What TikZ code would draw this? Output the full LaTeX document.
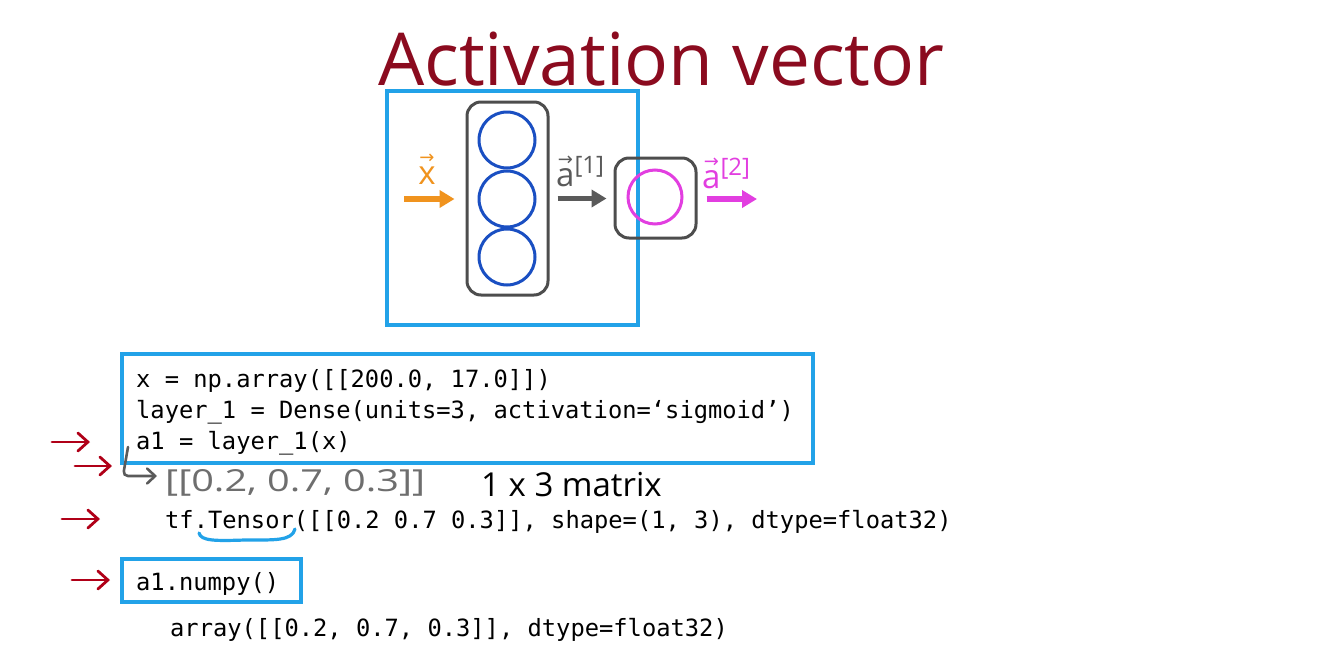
\documentclass[tikz,border=0pt]{standalone}
\usepackage{graphicx}
\usepackage{fontspec}
\setmainfont{Open Sans}
\setmonofont{DejaVu Sans Mono}
\newfontfamily\dejavu{DejaVu Sans}
\usetikzlibrary{arrows.meta}
\definecolor{titlered}{HTML}{8B0B1F}
\definecolor{boxblue}{HTML}{22A2E8}
\definecolor{unitblue}{HTML}{1A4FC2}
\definecolor{boxgray}{HTML}{4D4D4D}
\definecolor{arrorange}{HTML}{F0931E}
\definecolor{arrgray}{HTML}{5A5A5A}
\definecolor{magentatwo}{HTML}{E23EE0}
\definecolor{redarr}{HTML}{B00018}
\definecolor{hwgray}{HTML}{6E6E6E}
\newcommand{\codefont}{\ttfamily\fontsize{23.75}{28}\selectfont}
\newcommand{\lblfont}{\fontsize{33}{40}\selectfont}
\newcommand{\vecover}[1]{\leavevmode\setbox0\hbox{#1}\vbox{\offinterlineskip\hbox to\wd0{\hss{\dejavu\fontsize{18}{18}\selectfont →}\hss}\kern3pt\box0}}
\newcommand{\layersup}[1]{\raisebox{13pt}{\fontsize{24}{24}\selectfont[#1]}}
\begin{document}
\begin{tikzpicture}[x=1pt,y=-1pt,
  bluebox/.style={draw=boxblue, line width=3.2pt, inner sep=0pt},
  layerbox/.style={draw=boxgray, line width=3pt, rounded corners=14pt, inner sep=0pt},
  unit/.style={circle, draw=unitblue, line width=3pt, minimum size=56pt, inner sep=0pt},
  codeline/.style={anchor=base west, inner sep=0pt, font=\codefont},
  thickarrow/.style={line width=5.5pt, -{Triangle[length=15pt,width=17pt]}},
  redarrow/.style={draw=redarr, line width=2.8pt, line cap=round, -{Straight Barb[length=10pt,width=18pt,line cap=round]}},
  lbl/.style={inner sep=0pt, font=\lblfont},
]
\useasboundingbox (0,0) rectangle (1320,648);
\fill[white] (0,0) rectangle (1320,648);

% title
\node[anchor=base west, inner sep=0pt, text=titlered, font=\fontsize{73}{80}\selectfont] (title) at (378,85) {Activation vector};

% network
\node[bluebox, minimum width=251pt, minimum height=234pt] (netbox) at (512.5,208) {};
\node[layerbox, minimum width=81pt, minimum height=193pt] (l1box) at (507.5,198.5) {};
\node[unit] (u1) at (507,140) {};
\node[unit] (u2) at (507,199) {};
\node[unit] (u3) at (507,257) {};
\node[layerbox, minimum width=81pt, minimum height=80pt] (l2box) at (655.5,198) {};
\node[unit, draw=magentatwo, minimum size=54pt] (u4) at (655,197) {};

\coordinate (xin) at (404,199);
\coordinate (aout) at (757,199);
\draw[thickarrow, draw=arrorange, shorten >=11pt] (xin) -- (xin -| l1box.west);
\draw[thickarrow, draw=arrgray, shorten <=8pt, shorten >=7pt] (l1box.east) -- (l1box.east -| l2box.west);
\draw[thickarrow, draw=magentatwo, shorten <=9pt] (l2box.east |- aout) -- (aout);

\node[lbl, anchor=base, text=arrorange] (xlbl) at (427,184) {\vecover{x}};
\node[lbl, anchor=base west, text=arrgray] (a1lbl) at (556,186) {\vecover{a}\layersup{1}};
\node[lbl, anchor=base west, text=magentatwo] (a2lbl) at (702,188) {\vecover{a}\layersup{2}};

% code box
\node[bluebox, minimum width=691pt, minimum height=109pt] (codebox) at (467.5,408.5) {};
\node[codeline] (c1) at (136,387) {x = np.array([[200.0, 17.0]])};
\node[codeline] (c2) at (136,418) {layer\_1 = Dense(units=3, activation=‘sigmoid’)};
\node[codeline] (c3) at (136,449) {a1 = layer\_1(x)};

% bent arrow and handwritten result
\coordinate (bstart) at (128,447);
\coordinate (bcorner) at (123,476);
\coordinate (bend) at (157,476);
\draw[draw=arrgray, line width=2.6pt, line cap=round, rounded corners=5pt, -{Straight Barb[length=8pt,width=15pt,line cap=round]}] (bstart) -- (bcorner) -- (bend);
\node[anchor=base west, inner sep=0pt, text=hwgray, font=\fontsize{36}{40}\selectfont] (hw) at (165,491) {\resizebox{260pt}{22pt}{[[0.2, 0.7, 0.3]]}};
\node[anchor=base west, inner sep=0pt, font=\fontsize{33}{36}\selectfont] (mat) at (481,496) {1 x 3 matrix};

% tensor line
\node[codeline] (tf) at (165,528) {tf.Tensor([[0.2 0.7 0.3]], shape=(1, 3), dtype=float32)};
\coordinate (ul1) at (199,533);
\coordinate (ul2) at (295,529);
\draw[boxblue, line width=3.2pt, line cap=round] (ul1) .. controls (201,541) and (215,541) .. (245,540) .. controls (275,540) and (292,541) .. (ul2);

% numpy
\node[bluebox, minimum width=179pt, minimum height=43pt] (npbox) at (211.5,580.5) {};
\node[codeline] (np) at (136,590) {a1.numpy()};
\node[codeline] (arr) at (170,636) {array([[0.2, 0.7, 0.3]], dtype=float32)};

% red arrows
\coordinate (r1a) at (52,442); \coordinate (r1b) at (90,442);
\coordinate (r2a) at (75,466); \coordinate (r2b) at (112,466);
\coordinate (r3a) at (62,519); \coordinate (r3b) at (100,519);
\coordinate (r4a) at (72,580); \coordinate (r4b) at (110,580);
\draw[redarrow] (r1a) -- (r1b);
\draw[redarrow] (r2a) -- (r2b);
\draw[redarrow] (r3a) -- (r3b);
\draw[redarrow] (r4a) -- (r4b);
\end{tikzpicture}
\end{document}
